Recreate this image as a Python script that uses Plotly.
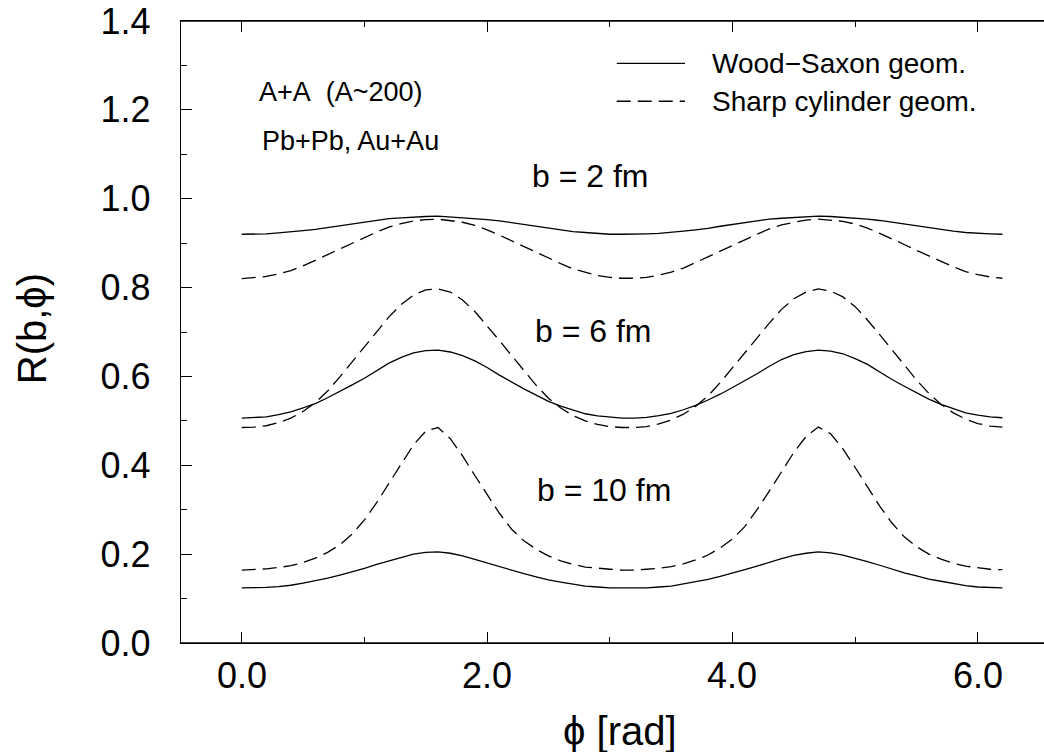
import plotly.graph_objects as go

# phi grid [rad]
phi = [round(0.1 * i, 1) for i in range(63)]

ws_b2 = [0.920, 0.920, 0.921, 0.923, 0.925, 0.928, 0.931, 0.935, 0.940, 0.944, 0.948, 0.952, 0.955, 0.957, 0.959, 0.960,
         0.961, 0.959, 0.958, 0.956, 0.953, 0.950, 0.946, 0.942, 0.937, 0.933, 0.929, 0.926, 0.924, 0.922, 0.920, 0.920,
         0.920, 0.921, 0.922, 0.924, 0.927, 0.930, 0.933, 0.938, 0.942, 0.946, 0.950, 0.954, 0.956, 0.958, 0.960, 0.961,
         0.960, 0.958, 0.957, 0.954, 0.951, 0.947, 0.943, 0.939, 0.934, 0.930, 0.927, 0.924, 0.922, 0.921, 0.920]

sc_b2 = [0.820, 0.822, 0.825, 0.831, 0.838, 0.849, 0.861, 0.874, 0.887, 0.900, 0.913, 0.925, 0.936, 0.944, 0.950, 0.953,
         0.954, 0.951, 0.947, 0.940, 0.930, 0.918, 0.905, 0.892, 0.879, 0.866, 0.854, 0.842, 0.834, 0.827, 0.823, 0.821,
         0.821, 0.823, 0.828, 0.835, 0.844, 0.856, 0.869, 0.882, 0.895, 0.908, 0.920, 0.932, 0.941, 0.947, 0.952, 0.954,
         0.952, 0.949, 0.943, 0.934, 0.922, 0.910, 0.897, 0.884, 0.871, 0.859, 0.847, 0.836, 0.829, 0.824, 0.821]

ws_b6 = [0.506, 0.507, 0.509, 0.514, 0.520, 0.529, 0.539, 0.552, 0.566, 0.581, 0.596, 0.613, 0.630, 0.643, 0.653, 0.658,
         0.659, 0.655, 0.647, 0.635, 0.620, 0.603, 0.587, 0.572, 0.558, 0.544, 0.533, 0.524, 0.516, 0.511, 0.508, 0.506,
         0.506, 0.508, 0.512, 0.517, 0.525, 0.535, 0.547, 0.560, 0.575, 0.590, 0.606, 0.623, 0.638, 0.649, 0.656, 0.659,
         0.657, 0.651, 0.640, 0.627, 0.610, 0.593, 0.578, 0.563, 0.549, 0.537, 0.527, 0.518, 0.513, 0.509, 0.507]

sc_b6 = [0.485, 0.486, 0.489, 0.496, 0.506, 0.521, 0.541, 0.567, 0.599, 0.633, 0.667, 0.701, 0.734, 0.762, 0.783, 0.795,
         0.797, 0.790, 0.772, 0.746, 0.714, 0.681, 0.647, 0.613, 0.580, 0.551, 0.529, 0.512, 0.500, 0.492, 0.487, 0.485,
         0.485, 0.487, 0.493, 0.502, 0.515, 0.533, 0.556, 0.586, 0.620, 0.654, 0.687, 0.720, 0.751, 0.775, 0.790, 0.797,
         0.792, 0.779, 0.757, 0.727, 0.694, 0.660, 0.626, 0.592, 0.562, 0.537, 0.518, 0.504, 0.494, 0.488, 0.486]

ws_b10 = [0.124, 0.124, 0.125, 0.127, 0.130, 0.135, 0.140, 0.146, 0.153, 0.160, 0.168, 0.177, 0.185, 0.193, 0.200, 0.204,
          0.205, 0.202, 0.196, 0.188, 0.180, 0.171, 0.163, 0.156, 0.149, 0.142, 0.137, 0.132, 0.128, 0.126, 0.124, 0.124,
          0.124, 0.124, 0.126, 0.128, 0.133, 0.138, 0.143, 0.150, 0.157, 0.165, 0.173, 0.182, 0.190, 0.197, 0.202, 0.205,
          0.203, 0.198, 0.191, 0.183, 0.175, 0.166, 0.158, 0.151, 0.144, 0.139, 0.134, 0.129, 0.126, 0.125, 0.124]

sc_b10 = [0.164, 0.165, 0.167, 0.170, 0.174, 0.181, 0.191, 0.204, 0.221, 0.245, 0.277, 0.316, 0.359, 0.404, 0.446, 0.477,
          0.485, 0.460, 0.421, 0.377, 0.333, 0.292, 0.256, 0.230, 0.211, 0.196, 0.185, 0.177, 0.171, 0.168, 0.166, 0.164,
          0.164, 0.166, 0.168, 0.172, 0.178, 0.187, 0.198, 0.214, 0.234, 0.262, 0.300, 0.342, 0.386, 0.429, 0.465, 0.486,
          0.471, 0.437, 0.395, 0.350, 0.308, 0.270, 0.239, 0.217, 0.200, 0.189, 0.179, 0.173, 0.169, 0.166, 0.165]

legend_labels = ["Wood\u2212Saxon geom.", "Sharp cylinder geom."]
b_labels = ["b = 2 fm", "b = 6 fm", "b = 10 fm"]
b_label_x = [2.845, 2.871, 2.953]
b_label_y = [1.051, 0.703, 0.344]
x_ticks = [0, 2, 4, 6]
y_ticks = [0.0, 0.2, 0.4, 0.6, 0.8, 1.0, 1.2, 1.4]

FONT = "Liberation Sans, Arial, Helvetica, sans-serif"
LW = 1.3
DASH = "14px,7px"

fig = go.Figure()
for ws, sc in [(ws_b2, sc_b2), (ws_b6, sc_b6), (ws_b10, sc_b10)]:
    fig.add_trace(go.Scatter(x=phi, y=ws, mode="lines",
                             line=dict(color="black", width=LW), showlegend=False))
    fig.add_trace(go.Scatter(x=phi, y=sc, mode="lines",
                             line=dict(color="black", width=LW, dash=DASH), showlegend=False))

axis_common = dict(
    showgrid=False, zeroline=False, showline=True, linecolor="black", linewidth=1.3,
    ticks="inside", ticklen=11, tickwidth=1.2, tickcolor="black",
    tickfont=dict(family=FONT, size=36, color="black"),
)

fig.update_xaxes(
    range=[-0.495, 6.539], tickvals=x_ticks, showticklabels=False,
    mirror="ticks",
    minor=dict(ticks="inside", ticklen=6, tickwidth=1.2, tickcolor="black", dtick=1, tick0=0),
    **axis_common,
)
fig.update_yaxes(
    range=[0, 1.4], tickvals=y_ticks, ticktext=[f"{v:.1f}" for v in y_ticks],
    mirror=False, ticklabelstandoff=22,
    minor=dict(ticks="inside", ticklen=6, tickwidth=1.2, tickcolor="black", dtick=0.1, tick0=0),
    **axis_common,
)

annotations = []
# x tick labels
for v in x_ticks:
    annotations.append(dict(x=v, y=-0.0523, xref="x", yref="paper", text=f"{v:.1f}",
                            showarrow=False, xanchor="center", yanchor="middle",
                            font=dict(family=FONT, size=36, color="black")))
for t, x, y in zip(b_labels, b_label_x, b_label_y):
    annotations.append(dict(x=x, y=y, xref="x", yref="y", text=t, showarrow=False,
                            xanchor="center", yanchor="middle",
                            font=dict(family=FONT, size=32, color="black")))
annotations.append(dict(x=0.122, y=1.240, xref="x", yref="y", text="A+A&nbsp;&nbsp;(A~200)",
                        showarrow=False, xanchor="left", yanchor="middle",
                        font=dict(family=FONT, size=27, color="black")))
annotations.append(dict(x=0.149, y=1.130, xref="x", yref="y", text="Pb+Pb, Au+Au",
                        showarrow=False, xanchor="left", yanchor="middle",
                        font=dict(family=FONT, size=27, color="black")))
# legend texts
annotations.append(dict(x=0.613, y=0.932, xref="paper", yref="paper", text=legend_labels[0],
                        showarrow=False, xanchor="left", yanchor="middle",
                        font=dict(family=FONT, size=28, color="black")))
annotations.append(dict(x=0.613, y=0.871, xref="paper", yref="paper", text=legend_labels[1],
                        showarrow=False, xanchor="left", yanchor="middle",
                        font=dict(family=FONT, size=28, color="black")))
# axis titles
annotations.append(dict(x=0.5087, y=-0.1415, xref="paper", yref="paper", text="\u03d5 [rad]",
                        showarrow=False, xanchor="center", yanchor="middle",
                        font=dict(family=FONT, size=40, color="black")))
annotations.append(dict(x=-0.1727, y=0.506, xref="paper", yref="paper", text="R(b,\u03d5)",
                        showarrow=False, xanchor="center", yanchor="middle", textangle=-90,
                        font=dict(family=FONT, size=40, color="black")))

shapes = [
    dict(type="line", xref="paper", yref="paper", x0=0.5049, x1=0.584, y0=0.932, y1=0.932,
         line=dict(color="black", width=LW)),
    dict(type="line", xref="paper", yref="paper", x0=0.5049, x1=0.584, y0=0.871, y1=0.871,
         line=dict(color="black", width=LW, dash=DASH)),
    # frame lines (top and bottom) reaching the right edge
    dict(type="line", xref="paper", yref="paper", x0=0, x1=1, y0=1, y1=1,
         line=dict(color="black", width=1.3), layer="above"),
    dict(type="line", xref="paper", yref="paper", x0=0, x1=1, y0=0, y1=0,
         line=dict(color="black", width=1.3), layer="above"),
]

fig.update_layout(
    width=1044, height=752,
    margin=dict(l=181, r=0, t=21, b=109),
    paper_bgcolor="white", plot_bgcolor="white",
    annotations=annotations, shapes=shapes,
    showlegend=False,
)

fig.write_html("out.html", config={"displayModeBar": False},
               post_script="document.body.style.margin='0';document.body.style.overflow='hidden';")
